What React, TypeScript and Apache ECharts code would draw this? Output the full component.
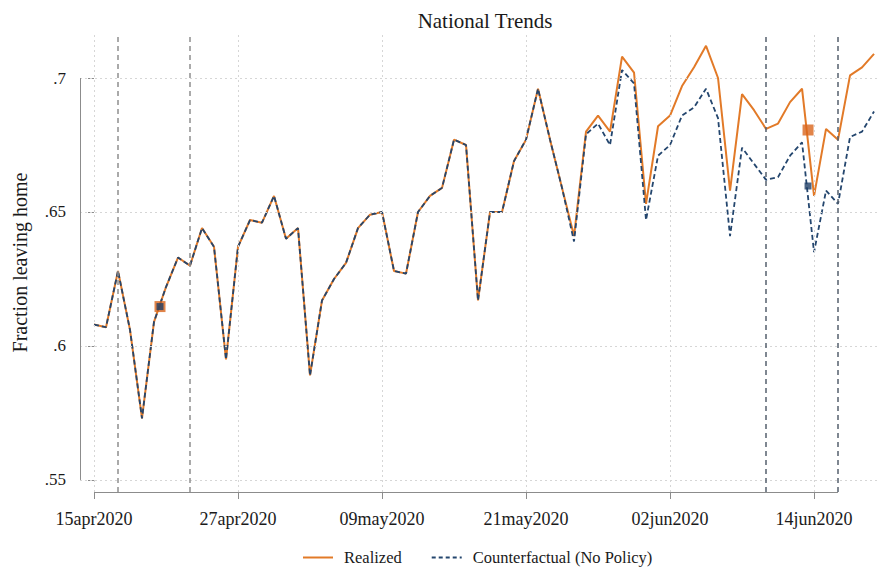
import React, { useEffect, useRef } from 'react';
import * as echarts from 'echarts';

// day index 0 = 15apr2020
const realized = [
  0.608, 0.607, 0.628, 0.606, 0.573, 0.609, 0.622, 0.633, 0.630, 0.644,
  0.637, 0.595, 0.637, 0.647, 0.646, 0.656, 0.640, 0.644, 0.589, 0.617,
  0.625, 0.631, 0.644, 0.649, 0.650, 0.628, 0.627, 0.650, 0.656, 0.659,
  0.677, 0.675, 0.617, 0.650, 0.650, 0.669, 0.677, 0.696, 0.677, 0.659,
  0.641, 0.680, 0.686, 0.680, 0.708, 0.702, 0.653, 0.682, 0.686, 0.697,
  0.704, 0.712, 0.700, 0.658, 0.694, 0.688, 0.681, 0.683, 0.691, 0.696,
  0.656, 0.681, 0.677, 0.701, 0.704, 0.709,
];
const counterfactual = [
  0.608, 0.607, 0.628, 0.606, 0.573, 0.609, 0.622, 0.633, 0.630, 0.644,
  0.637, 0.595, 0.637, 0.647, 0.646, 0.656, 0.640, 0.644, 0.589, 0.617,
  0.625, 0.631, 0.644, 0.649, 0.650, 0.628, 0.627, 0.650, 0.656, 0.659,
  0.677, 0.675, 0.617, 0.650, 0.650, 0.669, 0.677, 0.696, 0.677, 0.659,
  0.639, 0.679, 0.683, 0.675, 0.703, 0.698, 0.647, 0.671, 0.675, 0.686,
  0.689, 0.696, 0.685, 0.641, 0.674, 0.668, 0.662, 0.663, 0.671, 0.676,
  0.635, 0.658, 0.653, 0.678, 0.680, 0.6875,
];
const tickDays = [0, 12, 24, 36, 48, 60];
const xTickLabels = ['15apr2020', '27apr2020', '09may2020', '21may2020', '02jun2020', '14jun2020'];
const yTicks = [0.55, 0.6, 0.65, 0.7];
const yTickLabels = ['.55', '.6', '.65', '.7'];
const policyDays = [2, 8, 56, 62];
const realizedMarkers = [[5.5, 0.6147], [59.5, 0.6806]];
const counterfactualMarkers = [[5.5, 0.6147], [59.5, 0.6597]];

const X_MIN = -1.1667;
const X_MAX = 65.33;
const Y_MIN = 0.5455;
const Y_MAX = 0.7168;

const FONT = "'Liberation Serif', 'Times New Roman', serif";
const ORANGE = '#E27A28';
const ORANGE_MK = '#D9651C';
const NAVY = '#24466E';
const NAVY_MK = '#1F3F66';
const GRID = '#d6d6d6';
const AXIS = '#8c8c8c';

const SOLID_ICON = 'path://M0,0H30V2H0Z';
const DASH_ICON = 'path://M0,0H4V2H0Z M7,0H11V2H7Z M14,0H18V2H14Z M21,0H25V2H21Z M28,0H30V2H28Z';

export default function App() {
  const ref = useRef<HTMLDivElement>(null);
  useEffect(() => {
    if (!ref.current) return;
    const chart = echarts.init(ref.current, undefined, { renderer: 'svg' });
    const gridLines: any[] = [];
    yTicks.forEach((v) => {
      gridLines.push([{ coord: [X_MIN, v] }, { coord: [X_MAX, v] }]);
    });
    tickDays.forEach((d) => {
      gridLines.push([{ coord: [d, Y_MIN] }, { coord: [d, Y_MAX] }]);
    });
    const axisLines: any[] = [
      [{ coord: [tickDays[0], Y_MIN] }, { coord: [policyDays[policyDays.length - 1], Y_MIN] }],
      [{ coord: [X_MIN, yTicks[0]] }, { coord: [X_MIN, yTicks[yTicks.length - 1]] }],
    ];
    const eventLines = policyDays.map((d, i) => [
      { coord: [d, Y_MIN], lineStyle: { color: i < 2 ? '#8f8f8f' : '#56606e' } },
      { coord: [d, Y_MAX] },
    ]);
    chart.setOption({
      animation: false,
      backgroundColor: '#ffffff',
      textStyle: { fontFamily: FONT },
      title: {
        text: 'National Trends',
        left: 480,
        top: 5,
        textAlign: 'center',
        textStyle: { fontFamily: FONT, fontSize: 21, fontWeight: 'normal', color: '#1a1a1a' },
      },
      legend: {
        left: 298,
        top: 544,
        itemWidth: 30,
        itemHeight: 2,
        itemGap: 30,
        itemStyle: { borderWidth: 0 },
        textStyle: { fontFamily: FONT, fontSize: 16.5, color: '#1a1a1a', padding: [0, 0, 0, 6] },
        data: [
          { name: 'Realized', icon: SOLID_ICON },
          { name: 'Counterfactual (No Policy)', icon: DASH_ICON },
        ],
      },
      grid: { left: 80, right: 0, top: 33, bottom: 79, containLabel: false, outerBoundsMode: 'none' },
      xAxis: {
        type: 'value',
        min: X_MIN,
        max: X_MAX,
        axisLine: { show: false },
        splitLine: { show: false },
        axisTick: { show: true, length: 7, lineStyle: { color: AXIS }, customValues: tickDays },
        axisLabel: {
          customValues: tickDays,
          margin: 18,
          fontFamily: FONT,
          fontSize: 18,
          color: '#1a1a1a',
          formatter: (v: number) => {
            const i = tickDays.indexOf(Math.round(v));
            return i >= 0 ? xTickLabels[i] : '';
          },
        },
      },
      yAxis: {
        type: 'value',
        min: Y_MIN,
        max: Y_MAX,
        name: 'Fraction leaving home',
        nameLocation: 'middle',
        nameGap: 50,
        nameTextStyle: { fontFamily: FONT, fontSize: 20, color: '#1a1a1a' },
        axisLine: { show: false },
        splitLine: { show: false },
        axisTick: { show: true, length: 6, lineStyle: { color: AXIS }, customValues: yTicks },
        axisLabel: {
          customValues: yTicks,
          margin: 14,
          fontFamily: FONT,
          fontSize: 17,
          color: '#1a1a1a',
          formatter: (v: number) => {
            const i = yTicks.findIndex((t) => Math.abs(t - v) < 1e-6);
            return i >= 0 ? yTickLabels[i] : '';
          },
        },
      },
      series: [
        {
          name: 'gridlines',
          type: 'scatter',
          data: [],
          z: 0,
          silent: true,
          markLine: {
            silent: true,
            symbol: ['none', 'none'],
            label: { show: false },
            lineStyle: { color: GRID, type: [2, 3], width: 1 },
            data: gridLines,
          },
        },
        {
          name: 'axislines',
          type: 'scatter',
          data: [],
          z: 1,
          silent: true,
          markLine: {
            silent: true,
            symbol: ['none', 'none'],
            label: { show: false },
            lineStyle: { color: AXIS, type: 'solid', width: 1 },
            data: axisLines,
          },
        },
        {
          name: 'events',
          type: 'scatter',
          data: [],
          z: 1,
          silent: true,
          markLine: {
            silent: true,
            symbol: ['none', 'none'],
            label: { show: false },
            lineStyle: { type: [5, 4], width: 1.5 },
            data: eventLines,
          },
        },
        {
          name: 'Realized',
          type: 'line',
          data: realized.map((v, i) => [i, v]),
          showSymbol: false,
          symbol: 'none',
          z: 3,
          lineStyle: { color: ORANGE, width: 2 },
          itemStyle: { color: ORANGE },
        },
        {
          name: 'Counterfactual (No Policy)',
          type: 'line',
          data: counterfactual.map((v, i) => [i, v]),
          showSymbol: false,
          symbol: 'none',
          z: 4,
          lineStyle: { color: NAVY, width: 1.8, type: [5, 3] },
          itemStyle: { color: NAVY },
        },
        {
          name: 'realizedMarkers',
          type: 'scatter',
          data: realizedMarkers,
          symbol: 'rect',
          symbolSize: 11,
          z: 5,
          itemStyle: { color: ORANGE_MK },
        },
        {
          name: 'counterfactualMarkers',
          type: 'scatter',
          data: counterfactualMarkers,
          symbol: 'rect',
          symbolSize: 7,
          z: 6,
          itemStyle: { color: NAVY_MK },
        },
      ],
    });
    return () => chart.dispose();
  }, []);
  return <div ref={ref} style={{ position: 'fixed', left: 0, top: 0, width: 878, height: 571 }} />;
}
